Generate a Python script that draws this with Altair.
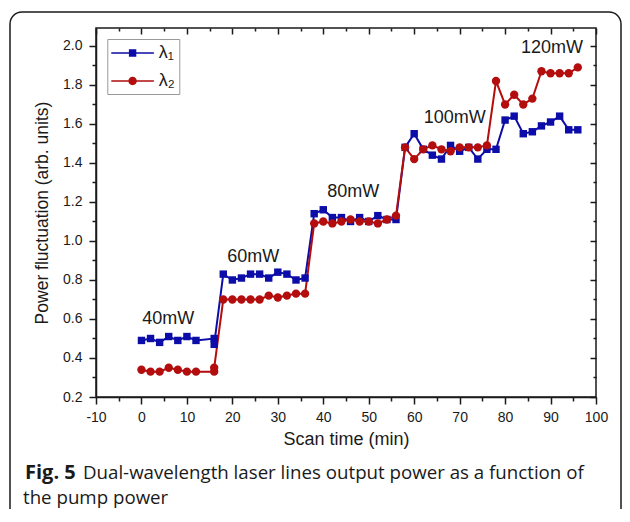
import altair as alt
import pandas as pd

# ---------------- data ----------------
time_min = [0, 2, 4, 6, 8, 10, 12, 16, 16,
            18, 20, 22, 24, 26, 28, 30, 32, 34, 36,
            38, 40, 42, 44, 46, 48, 50, 52, 54, 56,
            58, 60, 62, 64, 66, 68, 70, 72, 74, 76, 78,
            80, 82, 84, 86, 88, 90, 92, 94, 96]
lambda1 = [0.49, 0.50, 0.48, 0.51, 0.49, 0.51, 0.49, 0.50, 0.47,
           0.83, 0.80, 0.81, 0.83, 0.83, 0.81, 0.84, 0.83, 0.80, 0.81,
           1.14, 1.16, 1.12, 1.12, 1.10, 1.12, 1.10, 1.13, 1.11, 1.11,
           1.48, 1.55, 1.47, 1.44, 1.42, 1.49, 1.46, 1.48, 1.42, 1.47, 1.47,
           1.62, 1.64, 1.55, 1.56, 1.59, 1.61, 1.64, 1.57, 1.57]
lambda2 = [0.34, 0.33, 0.33, 0.35, 0.34, 0.33, 0.33, 0.33, 0.35,
           0.70, 0.70, 0.70, 0.70, 0.70, 0.72, 0.71, 0.72, 0.73, 0.73,
           1.09, 1.10, 1.09, 1.10, 1.11, 1.10, 1.10, 1.09, 1.11, 1.13,
           1.48, 1.42, 1.47, 1.49, 1.47, 1.46, 1.48, 1.48, 1.48, 1.49, 1.82,
           1.70, 1.75, 1.70, 1.73, 1.87, 1.86, 1.86, 1.86, 1.89]
series_names = ["λ₁", "λ₂"]
series_colors = ["#0c0ca8", "#b30d0d"]

x_tick_values = list(range(-10, 101, 5))
y_tick_values = [round(0.2 + 0.1 * i, 1) for i in range(19)]

annotation_text = ["40mW", "60mW", "80mW", "100mW", "120mW"]
annotation_x = [5.9, 24.6, 46.6, 68.9, 90.3]
annotation_y = [0.60, 0.92, 1.25, 1.63, 1.99]

caption_bold = "Fig. 5"
caption_line1 = "Dual-wavelength laser lines output power as a function of"
caption_line2 = "the pump power"

# ---------------- tables ----------------
rows = []
for name, vals in zip(series_names, [lambda1, lambda2]):
    for i, (t, v) in enumerate(zip(time_min, vals)):
        rows.append({"series": name, "t": t, "v": v, "idx": i})
df = pd.DataFrame(rows)
ann = pd.DataFrame({"label": annotation_text, "t": annotation_x, "v": annotation_y})

INK = "#1a1a1a"
x_scale = alt.Scale(domain=[-10, 100], nice=False, zero=False)
y_scale = alt.Scale(domain=[0.2, 2.092], nice=False, zero=False)
# colour domain comes from the data (sorted: λ₁, λ₂)
color_scale = alt.Scale(range=series_colors)

x_major = "datum.value % 10 == 0"
y_major = "round(datum.value * 10) % 2 == 0"

axis_style = dict(grid=False, domainColor=INK, domainWidth=1.5, tickColor=INK, tickWidth=1.5,
                  labelFont="Liberation Sans", labelFontSize=14, labelColor=INK,
                  titleFont="Liberation Sans", titleFontWeight="normal", titleColor=INK,
                  labelOverlap=False, labelFlush=False, labelBound=False)

x_bottom = alt.Axis(orient="bottom", values=x_tick_values, title="Scan time (min)",
                    labelExpr=f"{x_major} ? '' + datum.value : ''",
                    tickSize={"condition": {"test": x_major, "value": 7}, "value": 4},
                    labelPadding=6, titlePadding=6, titleFontSize=18, **axis_style)
y_left = alt.Axis(orient="left", values=y_tick_values, title="Power fluctuation (arb. units)",
                  labelExpr=f"{y_major} ? format(datum.value, '.1f') : ''",
                  tickSize={"condition": {"test": y_major, "value": 7}, "value": 4},
                  labelPadding=7, titlePadding=11, titleFontSize=17.5, **axis_style)
x_top = alt.Axis(orient="top", values=x_tick_values, labels=False, domain=False, title=None,
                 offset=-6, tickSize=6, tickColor=INK, tickWidth=1.5, grid=False,
                 tickDash={"condition": {"test": f"!({x_major})", "value": [0, 3, 3, 10]}, "value": []})
y_right = alt.Axis(orient="right", values=y_tick_values, labels=False, domain=False, title=None,
                   offset=-6, tickSize=6, tickColor=INK, tickWidth=1.5, grid=False,
                   tickDash={"condition": {"test": f"!({y_major})", "value": [0, 3, 3, 10]}, "value": []})

# legend symbols: line segment + marker (custom paths)
sq_path = "M-1,-0.075H3.26V0.075H-1Z M0.76,-0.37H1.5V0.37H0.76Z"
ci_path = "M-1,-0.075H3.26V0.075H-1Z M1.55,0A0.42,0.42 0 1,1 0.71,0A0.42,0.42 0 1,1 1.55,0Z"

leg = alt.Legend(title=None, orient="none", legendX=11.3, legendY=11, padding=4,
                 symbolSize=400, symbolStrokeWidth=0, symbolOpacity=1, rowPadding=9,
                 labelOffset=27.5, labelFont="Liberation Sans", labelFontSize=18, labelColor=INK,
                 strokeColor="#999999", fillColor="white")

frame = alt.Chart(pd.DataFrame({"k": [0]})).mark_rect(
    cornerRadius=12, fillOpacity=0, stroke=INK, strokeWidth=1.5
).encode(x=alt.value(-86), x2=alt.value(525), y=alt.value(-16), y2=alt.value(520))

lines = alt.Chart(df).mark_line(strokeWidth=2).encode(
    x=alt.X("t:Q", scale=x_scale, axis=x_bottom),
    y=alt.Y("v:Q", scale=y_scale, axis=y_left),
    color=alt.Color("series:N", scale=color_scale, legend=None),
    order="idx:Q",
)

blue_pts = alt.Chart(df).transform_filter(alt.datum.series == series_names[0]).mark_point(
    shape="square", filled=True, size=55, opacity=1
).encode(
    x=alt.X("t:Q", scale=x_scale, axis=x_top),
    y=alt.Y("v:Q", scale=y_scale, axis=y_right),
    color=alt.Color("series:N", scale=color_scale, legend=None),
)

red_pts = alt.Chart(df).transform_filter(alt.datum.series == series_names[1]).mark_point(
    shape="circle", filled=True, size=70, opacity=1
).encode(
    x=alt.X("t:Q", scale=x_scale, axis=None),
    y=alt.Y("v:Q", scale=y_scale, axis=None),
    color=alt.Color("series:N", scale=color_scale, legend=None),
)

# invisible marks that only carry the legend
legend_layer = alt.Chart(df).mark_point(
    filled=True, opacity=0, size=400
).encode(
    x=alt.X("t:Q", scale=x_scale, axis=None),
    y=alt.Y("v:Q", scale=y_scale, axis=None),
    fill=alt.Fill("series:N", scale=alt.Scale(domain=series_names, range=series_colors), legend=leg),
    shape=alt.Shape("series:N", scale=alt.Scale(domain=series_names, range=[sq_path, ci_path]), legend=leg),
)

annotations = alt.Chart(ann).mark_text(
    font="Liberation Sans", fontSize=18, color=INK, align="center", baseline="middle"
).encode(
    x=alt.X("t:Q", scale=x_scale, axis=None),
    y=alt.Y("v:Q", scale=y_scale, axis=None),
    text="label:N",
)

cap_style = dict(align="left", baseline="alphabetic", font="Open Sans", color=INK)
cap_b = alt.Chart(pd.DataFrame({"s": [caption_bold]})).mark_text(fontWeight="bold", fontSize=20, **cap_style).encode(
    text="s:N", x=alt.value(-71), y=alt.value(450.5))
cap_1 = alt.Chart(pd.DataFrame({"s": [caption_line1]})).mark_text(fontSize=18.7, **cap_style).encode(
    text="s:N", x=alt.value(-13), y=alt.value(450.5))
cap_2 = alt.Chart(pd.DataFrame({"s": [caption_line2]})).mark_text(fontSize=18.7, **cap_style).encode(
    text="s:N", x=alt.value(-73), y=alt.value(476))

chart = alt.layer(
    frame, lines, blue_pts, red_pts, legend_layer, annotations, cap_b, cap_1, cap_2
).properties(
    width=500, height=369,
    padding={"left": 88, "top": 20, "right": 26, "bottom": 112},
    autosize=alt.AutoSizeParams(type="none"),
).configure_view(stroke=INK, strokeWidth=1.5)

chart.save("out.html", embed_options={"renderer": "svg", "actions": False})
